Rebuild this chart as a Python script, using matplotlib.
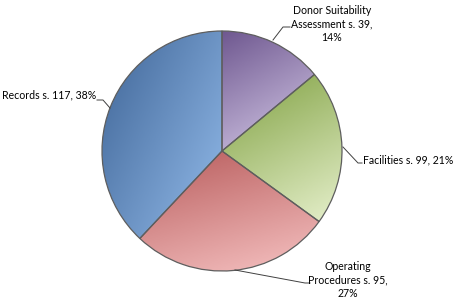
import numpy as np
import matplotlib.pyplot as plt
from matplotlib.colors import LinearSegmentedColormap

# данни
categories = ["Donor Suitability\nAssessment", "Facilities", "Operating\nProcedures", "Records"]
sections = [39, 99, 95, 117]
percents = [14, 21, 27, 38]

# цветове (тъмно -> светло)
dark = ['#6f5890', '#7fa040', '#b85c5c', '#3f6597']
light = ['#d8cdea', '#e6f0cc', '#f6c2c2', '#93bbea']
# тегло на хоризонталната компонента на градиента
hmix = [0.3, 0.3, 0.3, 0.55]

plt.rcParams['font.family'] = ['Lato', 'DejaVu Sans']

fig = plt.figure(figsize=(4.56, 3.0), dpi=100)
ax = fig.add_axes([0, 0, 1, 1])

cx, cy, r = 222, 149, 120
wedges, _ = ax.pie(percents, startangle=90, counterclock=False, center=(cx, cy),
                   radius=r, wedgeprops=dict(edgecolor='#5e5e5e', linewidth=0.9))

# градиент във всеки сектор
for w, c1, c2, h in zip(wedges, dark, light, hmix):
    bb = w.get_path().get_extents()
    cmap = LinearSegmentedColormap.from_list('g', [c1, c2])
    yy, xx = np.mgrid[0:1:100j, 0:1:100j]
    grad = (1 - h) * yy + h * xx
    w.set_facecolor('none')
    im = ax.imshow(grad, cmap=cmap, extent=[bb.x0, bb.x1, bb.y0, bb.y1],
                   origin='upper', aspect='auto', zorder=0.5)
    im.set_clip_path(w)

ax.set_xlim(0, 456)
ax.set_ylim(0, 300)
ax.set_aspect('equal')
ax.axis('off')

fs = 7.6
lc = '#404040'
H = 300

def lbl(i):
    return f"{categories[i]} s. {sections[i]},\n{percents[i]}%"

# Donor Suitability
ax.text(332, H - 24, lbl(0), ha='center', va='center', fontsize=fs, linespacing=1.3)
ax.plot([273, 283, 290], [H - 40, H - 27, H - 27], color=lc, lw=0.7)
# Facilities
ax.text(363, H - 160, f"Facilities s. {sections[1]}, {percents[1]}%", ha='left', va='center', fontsize=fs)
ax.plot([343, 358, 362], [H - 147, H - 163, H - 163], color=lc, lw=0.7)
# Operating Procedures
ax.text(348, H - 280, lbl(2), ha='center', va='center', fontsize=fs, linespacing=1.3)
ax.plot([235, 305, 310], [H - 270, H - 283, H - 283], color=lc, lw=0.7)
# Records
ax.text(96, H - 95, f"Records s. {sections[3]}, {percents[3]}%", ha='right', va='center', fontsize=fs)
ax.plot([97, 103, 110], [H - 100, H - 100, H - 108], color=lc, lw=0.7)

fig.savefig('out.png', dpi=100)
